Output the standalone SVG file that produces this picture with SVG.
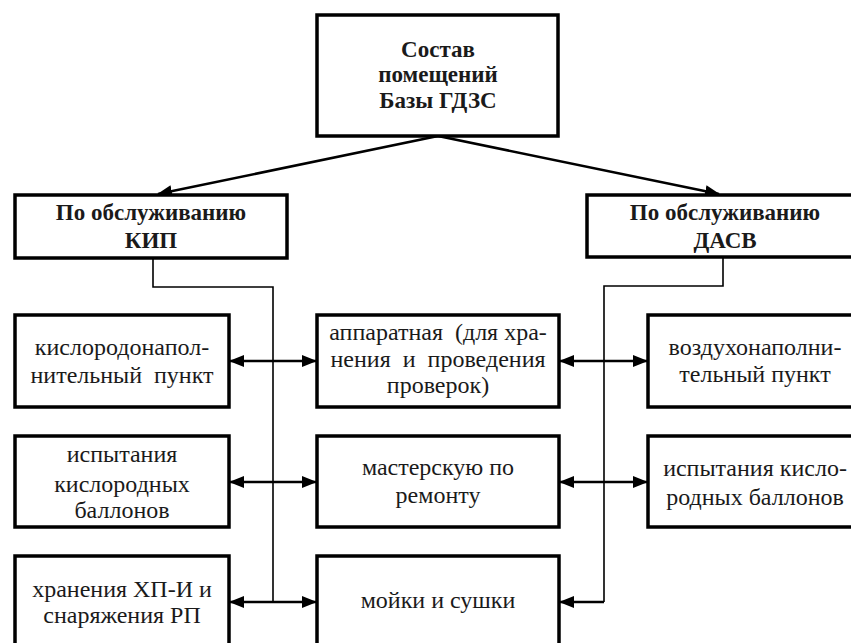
<svg xmlns="http://www.w3.org/2000/svg" width="851" height="643" viewBox="0 0 851 643" font-family="'Liberation Serif', 'DejaVu Serif', serif">
<defs>
<marker id="ah" markerUnits="userSpaceOnUse" markerWidth="15" markerHeight="12" refX="14" refY="6" orient="auto-start-reverse">
<path d="M0,0 L15,6 L0,12 z" fill="#000"/>
</marker>
</defs>
<style>
.box{fill:#fff;stroke:#000;stroke-width:3.5}
.t{font-family:'Liberation Serif','DejaVu Serif',serif;font-size:24px;fill:#1a1a1a;text-anchor:middle}
.b{font-weight:bold;font-size:23px}
.c{fill:none;stroke:#000;stroke-width:2.5}
.v{fill:none;stroke:#000;stroke-width:1.6}
</style>
<rect width="851" height="643" fill="#fff"/>
<g id="connectors">
<line class="c" x1="438" y1="136" x2="158" y2="194" marker-end="url(#ah)"/>
<line class="c" x1="438" y1="136" x2="719" y2="194" marker-end="url(#ah)"/>
<polyline class="v" points="153,258 153,287 273,287 273,602"/>
<polyline class="v" points="723,258 723,286 604,286 604,602"/>
<line class="c" x1="230" y1="361" x2="316" y2="361" marker-start="url(#ah)" marker-end="url(#ah)"/>
<line class="c" x1="230" y1="482" x2="316" y2="482" marker-start="url(#ah)" marker-end="url(#ah)"/>
<line class="c" x1="230" y1="602" x2="316" y2="602" marker-start="url(#ah)" marker-end="url(#ah)"/>
<line class="c" x1="560" y1="361" x2="647" y2="361" marker-start="url(#ah)" marker-end="url(#ah)"/>
<line class="c" x1="560" y1="482" x2="647" y2="482" marker-start="url(#ah)" marker-end="url(#ah)"/>
<polyline class="c" points="604,602 560,602" marker-end="url(#ah)"/>
</g>
<g id="root">
<rect class="box" x="317" y="15" width="241" height="121"/>
<text class="t b" x="438" y="57">Состав</text>
<text class="t b" x="438" y="82">помещений</text>
<text class="t b" x="438" y="108">Базы ГДЗС</text>
</g>
<g id="kip">
<rect class="box" x="15" y="195" width="272" height="63"/>
<text class="t b" x="151" y="220">По обслуживанию</text>
<text class="t b" x="151" y="248">КИП</text>
</g>
<g id="dasv">
<rect class="box" x="587" y="195" width="276" height="62"/>
<text class="t b" x="725" y="220">По обслуживанию</text>
<text class="t b" x="725" y="248">ДАСВ</text>
</g>
<g id="l1">
<rect class="box" x="15" y="315" width="214" height="92"/>
<text class="t" x="122" y="355">кислородонапол-</text>
<text class="t" x="122" y="383" xml:space="preserve">нительный  пункт</text>
</g>
<g id="m1">
<rect class="box" x="317" y="315" width="242" height="92"/>
<text class="t" x="438" y="340" xml:space="preserve">аппаратная  (для хра-</text>
<text class="t" x="438" y="367" xml:space="preserve">нения  и  проведения</text>
<text class="t" x="438" y="393">проверок)</text>
</g>
<g id="r1">
<rect class="box" x="648" y="315" width="215" height="92"/>
<text class="t" x="755" y="355">воздухонаполни-</text>
<text class="t" x="755" y="382">тельный пункт</text>
</g>
<g id="l2">
<rect class="box" x="15" y="436" width="214" height="91"/>
<text class="t" x="122" y="462">испытания</text>
<text class="t" x="122" y="492">кислородных</text>
<text class="t" x="122" y="518">баллонов</text>
</g>
<g id="m2">
<rect class="box" x="317" y="436" width="242" height="91"/>
<text class="t" x="438" y="475">мастерскую по</text>
<text class="t" x="438" y="503">ремонту</text>
</g>
<g id="r2">
<rect class="box" x="648" y="436" width="215" height="91"/>
<text class="t" x="755" y="476">испытания кисло-</text>
<text class="t" x="755" y="505">родных баллонов</text>
</g>
<g id="l3">
<rect class="box" x="15" y="556" width="214" height="100"/>
<text class="t" x="122" y="597">хранения ХП-И и</text>
<text class="t" x="122" y="623">снаряжения РП</text>
</g>
<g id="m3">
<rect class="box" x="317" y="556" width="242" height="100"/>
<text class="t" x="438" y="608">мойки и сушки</text>
</g>
</svg>
